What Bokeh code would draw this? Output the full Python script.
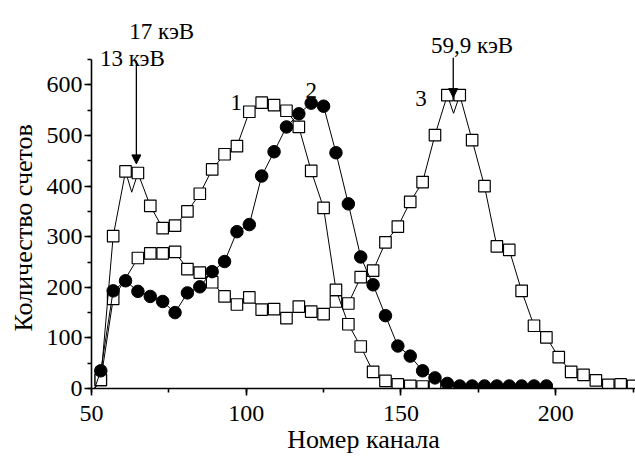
from bokeh.plotting import figure
from bokeh.models import Label, Arrow, NormalHead, SingleIntervalTicker, Range1d, Title
from bokeh.embed import file_html
from bokeh.resources import INLINE

# Curve 1 (open squares)
ch1 = [53, 57, 61, 65, 69, 73, 77, 81, 85, 89, 93, 97, 101, 105, 109, 113, 117,
       121, 125, 129, 133, 137, 141, 145, 149, 153, 157, 161]
cnt1 = [17, 301, 429, 426, 361, 317, 322, 350, 385, 433, 463, 479, 547, 565, 560,
        549, 517, 430, 357, 195, 127, 83, 33, 15, 8, 5, 4, 3]
# extra points of the continuous spectrum line (not marked)
ech1 = [51, 63]
ecnt1 = [0, 388]

# Curve 2 (filled circles)
ch2 = [53, 57, 61, 65, 69, 73, 77, 81, 85, 89, 93, 97, 101, 105, 109, 113, 117,
       121, 125, 129, 133, 137, 141, 145, 149, 153, 157, 161, 165, 169, 173, 177,
       181, 185, 189, 193, 197]
cnt2 = [35, 193, 213, 192, 182, 172, 150, 189, 201, 231, 251, 310, 324, 420, 468,
        517, 543, 564, 558, 466, 365, 260, 205, 144, 84, 64, 35, 21, 10, 5, 5, 5,
        5, 5, 5, 5, 5]
ech2 = [51]
ecnt2 = [0]

# Curve 3 (open squares)
ch3 = [53, 57, 65, 69, 73, 77, 81, 85, 89, 93, 97, 101, 105, 109, 113, 117, 121,
       125, 129, 133, 137, 141, 145, 149, 153, 157, 161, 165, 169, 173, 177, 181,
       185, 189, 193, 197, 201, 205, 209, 213, 217, 221, 225]
cnt3 = [17, 177, 258, 267, 267, 270, 236, 229, 210, 182, 166, 180, 156, 157, 139,
        162, 152, 147, 172, 168, 220, 233, 289, 320, 369, 408, 501, 580, 580, 491,
        400, 281, 274, 193, 124, 101, 62, 33, 27, 16, 7, 8, 5]
ech3 = [51, 167]
ecnt3 = [0, 544]

# Peak annotations and curve numbers
peak_labels = ["17 кэВ", "13 кэВ", "59,9 кэВ"]
curve_numbers = ["1", "2", "3"]

FONT = "'Liberation Serif'"


def merged(ch, cnt, ech, ecnt):
    pts = sorted(zip(list(ch) + list(ech), list(cnt) + list(ecnt)))
    return [a for a, _ in pts], [b for _, b in pts]


p = figure(width=635, height=457, output_backend="svg", toolbar_location=None,
           x_range=Range1d(50, 225.8), y_range=Range1d(0, 763),
           min_border_left=90, min_border_right=0, min_border_top=2,
           min_border_bottom=69)
p.outline_line_color = None
p.grid.visible = False
p.background_fill_color = "white"
p.border_fill_color = "white"

p.xaxis.ticker = SingleIntervalTicker(interval=50, num_minor_ticks=2)
p.yaxis.ticker = SingleIntervalTicker(interval=100, num_minor_ticks=2)
p.yaxis.bounds = (0, 650)
p.xaxis.axis_label = "Номер канала"
for ax in (p.xaxis, p.yaxis):
    ax.axis_line_width = 1.6
    ax.axis_line_color = "black"
    ax.major_tick_line_width = 1.6
    ax.minor_tick_line_width = 1.6
    ax.major_tick_line_color = "black"
    ax.minor_tick_line_color = "black"
    ax.major_tick_in = 0
    ax.major_tick_out = 7
    ax.minor_tick_in = 0
    ax.minor_tick_out = 4
    ax.major_label_text_font = FONT
    ax.major_label_text_font_size = "24px"
    ax.major_label_text_color = "black"
    ax.axis_label_text_font = FONT
    ax.axis_label_text_font_size = "26px"
    ax.axis_label_text_font_style = "normal"
    ax.axis_label_text_color = "black"
p.xaxis.major_label_standoff = 10
p.xaxis.axis_label_standoff = 1
p.yaxis.major_label_standoff = 2

p.add_layout(Title(text="Количество счетов", align="left", offset=57,
                   text_font=FONT, text_font_size="26px", text_font_style="normal",
                   text_color="black", standoff=12), "left")

for ch, cnt, ech, ecnt, kind in [(ch3, cnt3, ech3, ecnt3, "sq"),
                                  (ch1, cnt1, ech1, ecnt1, "sq"),
                                  (ch2, cnt2, ech2, ecnt2, "ci")]:
    lx, ly = merged(ch, cnt, ech, ecnt)
    p.line(lx, ly, line_color="black", line_width=1)
    if kind == "sq":
        p.scatter(ch, cnt, marker="square", size=11.5, fill_color="white",
                  line_color="black", line_width=1.2)
    else:
        p.scatter(ch, cnt, marker="circle", size=12.5, fill_color="black",
                  line_color="black", line_width=1)

# annotations
ann = [(peak_labels[0], 72.7, 705), (peak_labels[1], 63.2, 652),
       (peak_labels[2], 173.0, 678),
       (curve_numbers[0], 96.8, 565), (curve_numbers[1], 121.0, 589),
       (curve_numbers[2], 156.5, 573)]
for txt, x, y in ann:
    p.add_layout(Label(x=x, y=y, text=txt, text_font=FONT, text_font_size="23px",
                       text_color="black", text_align="center",
                       text_baseline="alphabetic"))

arrows = [(64.5, 648, 64.5, 444), (166.9, 654, 166.9, 575)]
for xs, ys, xe, ye in arrows:
    p.add_layout(Arrow(end=NormalHead(size=9, fill_color="black", line_color="black"),
                       x_start=xs, y_start=ys, x_end=xe, y_end=ye,
                       line_color="black", line_width=1.3))

open("out.html", "w").write(file_html(p, INLINE))
